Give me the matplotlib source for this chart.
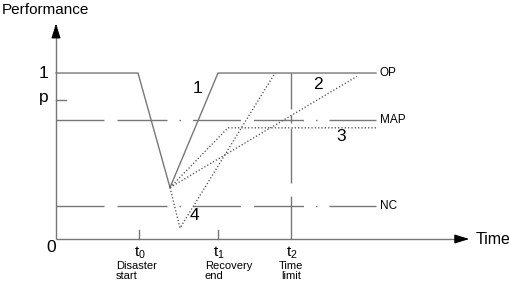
import matplotlib
matplotlib.use("Agg")
import matplotlib.pyplot as plt

plt.rcParams['font.family'] = ['Liberation Sans', 'DejaVu Sans']
plt.rcParams['mathtext.fontset'] = 'custom'
plt.rcParams['mathtext.rm'] = 'Liberation Sans'
plt.rcParams['lines.scale_dashes'] = False

# instants sur l'axe du temps
t0, t1, t2 = 8.3, 16.2, 23.5
t_end = 32.0
time_ticks = [t0, t1, t2]
time_names = [r"$\mathregular{t_0}$", r"$\mathregular{t_1}$", r"$\mathregular{t_2}$"]
time_desc = ["Disaster\nstart", "Recovery\nend", "Time\nlimit"]

# niveaux de performance
op_level = 1.0
p_level = 0.84
map_level = 0.72
nc_level = 0.20
levels = [op_level, map_level, nc_level]
level_names = ["OP", "MAP", "NC"]

# courbe 1 (trait plein)
c1_x = [0.0, 8.2, 11.4, 16.2, 32.0]
c1_y = [1.0, 1.0, 0.31, 1.0, 1.0]
# courbes en pointillé
c2_x = [11.4, 30.1]
c2_y = [0.31, 0.98]
c3_x = [11.4, 17.2, 32.0]
c3_y = [0.31, 0.67, 0.67]
c4_x = [11.4, 12.4, 21.9]
c4_y = [0.31, 0.066, 1.0]

curve_labels = ["1", "2", "3", "4"]
curve_label_x = [14.2, 26.2, 28.5, 13.8]
curve_label_y = [0.907, 0.928, 0.62, 0.139]

gray = "#777777"
dot_gray = "#555555"

fig = plt.figure(figsize=(5.1, 2.83), dpi=100)
ax = fig.add_axes([0, 0, 1, 1])
ax.set_xlim(-5.6, 45.4)
ax.set_ylim(-0.265, 1.44)
ax.axis("off")

# axes avec flèches
ax.plot([0, 40.3], [0, 0], color=gray, lw=1.0, solid_capstyle="butt")
ax.plot([0, 0], [0, 1.23], color=gray, lw=1.0, solid_capstyle="butt")
ax.annotate("", xy=(41.6, 0), xytext=(40.2, 0),
            arrowprops=dict(arrowstyle="-|>,head_length=0.9,head_width=0.28",
                            color="black", lw=0.8, mutation_scale=10))
ax.annotate("", xy=(0, 1.315), xytext=(0, 1.22),
            arrowprops=dict(arrowstyle="-|>,head_length=0.9,head_width=0.28",
                            color="black", lw=0.8, mutation_scale=10))

# niveaux horizontaux en tiret-point
dash_px = [48, 13, 50, 12, 1.5, 12]
dash_pt = [d * 0.72 for d in dash_px]
for lv in levels[1:]:
    ax.plot([0, t_end], [lv, lv], color=gray, lw=1.0, dashes=dash_pt,
            dash_capstyle="butt")
for lv, name in zip(levels, level_names):
    ax.text(t_end + 0.4, lv, name, fontsize=8.5, ha="left", va="center")

# ligne verticale t2
vdash = [d * 0.72 for d in [43, 13, 55, 5, 8, 6, 40, 5]]
ax.plot([t2, t2], [0, op_level], color=gray, lw=1.0, dashes=vdash,
        dash_capstyle="butt")

# graduations
for t in time_ticks[:2]:
    ax.plot([t, t], [0, 0.054], color=gray, lw=1.0)
ax.plot([0, 1.0], [p_level, p_level], color=gray, lw=1.0)

# courbes
ax.plot(c1_x, c1_y, color=gray, lw=1.0)
for xs, ys in [(c2_x, c2_y), (c3_x, c3_y), (c4_x, c4_y)]:
    ax.plot(xs, ys, color=dot_gray, lw=1.0, dashes=(0.9, 1.5),
            dash_capstyle="butt")

for lab, lx, ly in zip(curve_labels, curve_label_x, curve_label_y):
    ax.text(lx, ly, lab, fontsize=12.5, ha="center", va="center")

# textes des axes
ax.text(-5.4, 1.38, "Performance", fontsize=11, ha="left", va="center")
ax.text(-1.2, 1.0, "1", fontsize=12.5, ha="center", va="center")
ax.text(-1.2, p_level + 0.01, "p", fontsize=12.5, ha="center", va="center")
ax.text(-0.5, -0.05, "0", fontsize=12.5, ha="center", va="center")
ax.text(42.0, 0.0, "Time", fontsize=11.5, ha="left", va="center")

for t, name in zip(time_ticks, time_names):
    ax.text(t + 0.1, -0.035, name, fontsize=11, ha="center", va="top")
ax.text(6.0, -0.13, time_desc[0], fontsize=8, ha="left", va="top", linespacing=1.05)
ax.text(14.9, -0.13, time_desc[1], fontsize=8, ha="left", va="top", linespacing=1.05)
ax.text(t2, -0.13, time_desc[2], fontsize=8, ha="center", va="top",
        linespacing=1.05, multialignment="center")

fig.savefig("out.png", dpi=100)
